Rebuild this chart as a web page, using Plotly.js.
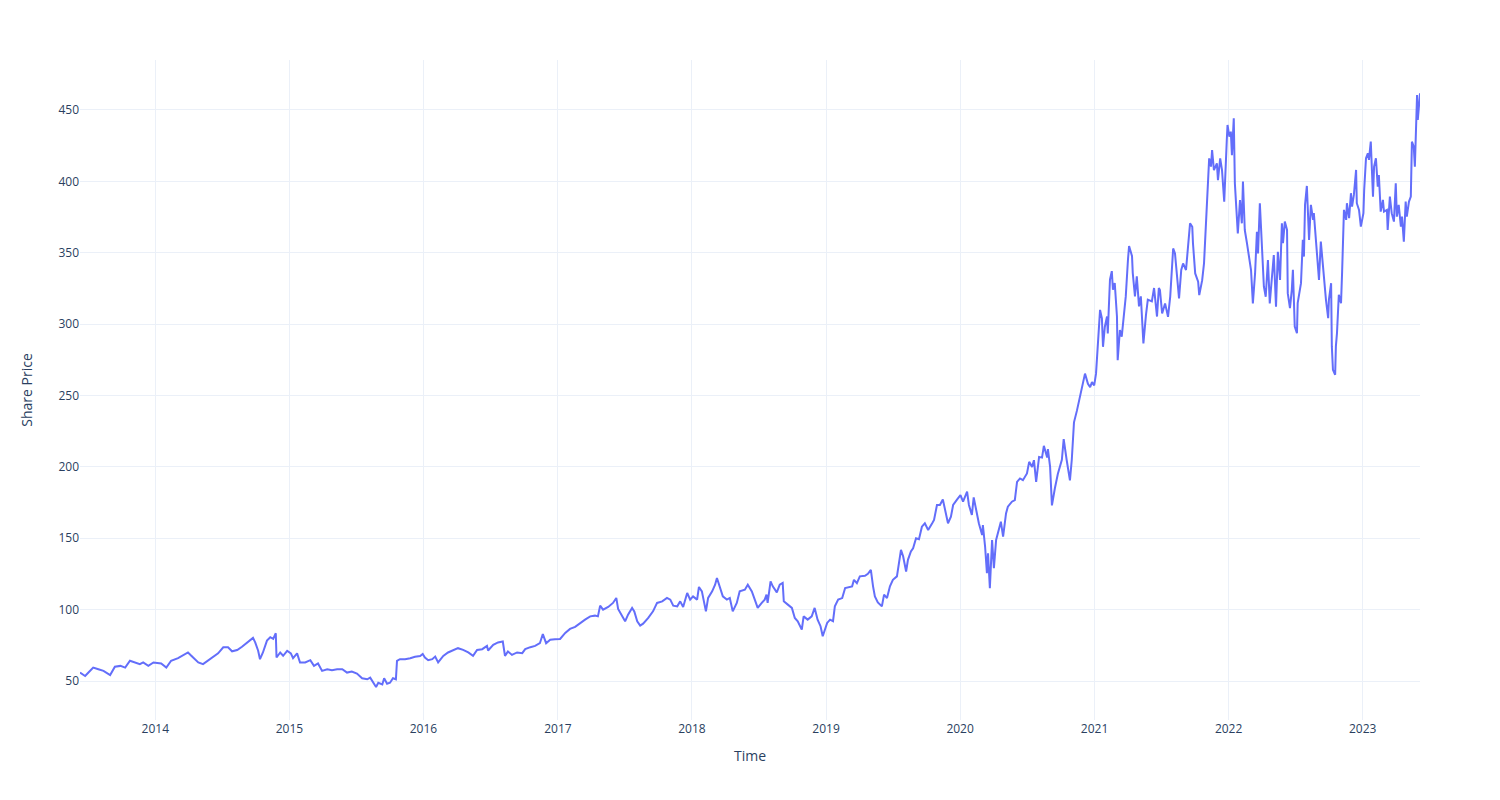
<!DOCTYPE html>
<html>
<head>
<meta charset="utf-8">
<script src="https://cdn.plot.ly/plotly-3.0.1.min.js"></script>
<style>html,body{margin:0;padding:0;background:#fff;}#chart{width:1500px;height:800px;}</style>
</head>
<body>
<div id="chart"></div>
<script>
var dates = [
"2013-06-10","2013-06-24","2013-07-03","2013-07-16","2013-07-30","2013-08-13","2013-08-31","2013-09-13","2013-09-28","2013-10-11","2013-10-24","2013-11-07","2013-11-20","2013-11-29","2013-12-13","2013-12-27",
"2014-01-17","2014-01-31","2014-02-13","2014-03-04","2014-03-22","2014-03-31","2014-04-09","2014-04-22","2014-04-28","2014-05-11","2014-05-25","2014-06-08","2014-06-21","2014-07-05","2014-07-18","2014-07-29","2014-08-12","2014-08-25","2014-09-08","2014-09-16","2014-09-24","2014-09-30","2014-10-08","2014-10-13","2014-10-21","2014-11-01","2014-11-10","2014-11-18","2014-11-25","2014-11-27","2014-12-07","2014-12-15","2014-12-26",
"2015-01-05","2015-01-11","2015-01-22","2015-01-30","2015-02-13","2015-02-27","2015-03-09","2015-03-20","2015-03-31","2015-04-14","2015-04-27","2015-05-11","2015-05-25","2015-06-07","2015-06-20","2015-07-04","2015-07-18","2015-08-01","2015-08-09","2015-08-17","2015-08-25","2015-08-31","2015-09-11","2015-09-16","2015-09-24","2015-10-02","2015-10-10","2015-10-18","2015-10-21","2015-10-29","2015-11-12","2015-11-26","2015-12-09","2015-12-23","2015-12-30",
"2016-01-05","2016-01-14","2016-01-25","2016-02-02","2016-02-10","2016-02-24","2016-03-08","2016-03-22","2016-04-04","2016-04-18","2016-05-02","2016-05-15","2016-05-26","2016-06-09","2016-06-22","2016-06-25","2016-07-09","2016-07-22","2016-08-04","2016-08-10","2016-08-18","2016-08-29","2016-09-12","2016-09-26","2016-10-04","2016-10-18","2016-10-31","2016-11-13","2016-11-21","2016-11-30","2016-12-11","2016-12-24",
"2017-01-07","2017-01-21","2017-02-03","2017-02-17","2017-03-03","2017-03-16","2017-03-30","2017-04-12","2017-04-20","2017-04-26","2017-05-04","2017-05-18","2017-05-31","2017-06-09","2017-06-14","2017-06-20","2017-06-28","2017-07-03","2017-07-11","2017-07-22","2017-07-28","2017-08-05","2017-08-13","2017-08-21","2017-09-04","2017-09-17","2017-09-28","2017-10-12","2017-10-25","2017-11-03","2017-11-11","2017-11-22","2017-11-30","2017-12-08","2017-12-19","2017-12-27",
"2018-01-04","2018-01-15","2018-01-20","2018-01-28","2018-02-08","2018-02-14","2018-02-25","2018-03-05","2018-03-10","2018-03-18","2018-03-26","2018-04-06","2018-04-14","2018-04-22","2018-05-03","2018-05-11","2018-05-25","2018-06-02","2018-06-13","2018-06-21","2018-06-29","2018-07-10","2018-07-18","2018-07-23","2018-07-26","2018-08-03","2018-08-09","2018-08-20","2018-08-28","2018-09-05","2018-09-08","2018-09-19","2018-09-30","2018-10-08","2018-10-16","2018-10-27","2018-11-01","2018-11-12","2018-11-23","2018-12-01","2018-12-09","2018-12-17","2018-12-23",
"2019-01-04","2019-01-12","2019-01-20","2019-01-25","2019-02-03","2019-02-14","2019-02-22","2019-03-02","2019-03-13","2019-03-18","2019-03-26","2019-04-03","2019-04-17","2019-04-25","2019-05-03","2019-05-09","2019-05-14","2019-05-22","2019-06-02","2019-06-08","2019-06-16","2019-06-24","2019-07-02","2019-07-13","2019-07-19","2019-07-24","2019-07-30","2019-08-07","2019-08-12","2019-08-20","2019-08-26","2019-09-03","2019-09-11","2019-09-19","2019-09-27","2019-10-06","2019-10-17","2019-10-22","2019-10-30","2019-11-07","2019-11-15","2019-11-24","2019-11-29","2019-12-07","2019-12-13","2019-12-24",
"2020-01-02","2020-01-09","2020-01-20","2020-01-25","2020-02-02","2020-02-07","2020-02-15","2020-02-21","2020-03-01","2020-03-03","2020-03-09","2020-03-14","2020-03-17","2020-03-22","2020-03-28","2020-04-02","2020-04-08","2020-04-13","2020-04-21","2020-04-27","2020-05-05","2020-05-10","2020-05-21","2020-05-29","2020-06-04","2020-06-12","2020-06-20","2020-07-01","2020-07-07","2020-07-15","2020-07-20","2020-07-26","2020-08-03","2020-08-11","2020-08-16","2020-08-25","2020-08-27","2020-09-02","2020-09-07","2020-09-15","2020-09-23","2020-10-04","2020-10-09","2020-10-17","2020-10-26","2020-10-31","2020-11-06","2020-11-14","2020-11-22","2020-11-30","2020-12-06","2020-12-14","2020-12-20","2020-12-25","2020-12-31",
"2021-01-05","2021-01-10","2021-01-16","2021-01-21","2021-01-24","2021-01-29","2021-02-04","2021-02-06","2021-02-12","2021-02-17","2021-02-20","2021-02-25","2021-03-03","2021-03-05","2021-03-11","2021-03-16","2021-03-22","2021-03-27","2021-04-02","2021-04-05","2021-04-13","2021-04-15","2021-04-21","2021-04-26","2021-05-02","2021-05-07","2021-05-10","2021-05-14","2021-05-21","2021-05-26","2021-06-06","2021-06-12","2021-06-20","2021-06-25","2021-06-28","2021-07-04","2021-07-12","2021-07-20","2021-07-26","2021-07-31","2021-08-03","2021-08-08","2021-08-14","2021-08-19","2021-08-25","2021-08-30","2021-09-07","2021-09-13","2021-09-18","2021-09-24","2021-09-26","2021-10-02","2021-10-10","2021-10-13","2021-10-21","2021-10-26","2021-11-01","2021-11-06","2021-11-09","2021-11-14","2021-11-17","2021-11-22","2021-11-30","2021-12-03","2021-12-09","2021-12-14","2021-12-17","2021-12-20","2021-12-27","2021-12-29",
"2022-01-03","2022-01-07","2022-01-10","2022-01-15","2022-01-18","2022-01-24","2022-01-26","2022-02-01","2022-02-06","2022-02-09","2022-02-14","2022-02-20","2022-02-25","2022-03-03","2022-03-08","2022-03-14","2022-03-19","2022-03-22","2022-03-27","2022-04-01","2022-04-07","2022-04-12","2022-04-18","2022-04-23","2022-04-29","2022-05-04","2022-05-10","2022-05-15","2022-05-21","2022-05-26","2022-05-29","2022-06-03","2022-06-09","2022-06-11","2022-06-17","2022-06-22","2022-06-25","2022-06-30","2022-07-06","2022-07-08","2022-07-17","2022-07-22","2022-07-25","2022-07-28","2022-08-02","2022-08-08","2022-08-13","2022-08-19","2022-08-21","2022-08-27","2022-09-01","2022-09-04","2022-09-09","2022-09-15","2022-09-18","2022-09-23","2022-09-29","2022-10-01","2022-10-07","2022-10-09","2022-10-12","2022-10-18","2022-10-20","2022-10-23","2022-10-28","2022-11-03","2022-11-06","2022-11-11","2022-11-17","2022-11-19","2022-11-25","2022-11-30","2022-12-03","2022-12-08","2022-12-14","2022-12-16","2022-12-22","2022-12-27",
"2023-01-03","2023-01-05","2023-01-10","2023-01-15","2023-01-18","2023-01-23","2023-01-29","2023-02-01","2023-02-06","2023-02-11","2023-02-14","2023-02-19","2023-02-25","2023-02-28","2023-03-08","2023-03-10","2023-03-16","2023-03-21","2023-03-27","2023-04-01","2023-04-04","2023-04-09","2023-04-15","2023-04-18","2023-04-23","2023-04-28","2023-05-01","2023-05-07","2023-05-12","2023-05-15","2023-05-20","2023-05-23","2023-05-29","2023-05-31","2023-06-06"
];
var prices = [
56.0,53.5,56.0,59.4,58.3,57.1,54.2,60.0,60.6,59.4,64.2,63.0,61.8,63.0,60.6,63.0,
62.3,59.4,64.2,66.0,68.9,70.0,67.7,64.2,63.0,61.8,64.2,67.0,69.4,73.6,73.6,70.8,71.7,74.0,77.1,78.8,80.2,77.1,71.2,65.3,70.0,78.3,80.7,79.5,83.5,66.5,70.0,67.7,71.2,
69.4,66.0,69.4,63.0,63.0,64.6,60.6,62.3,57.1,58.3,57.6,58.3,58.3,55.9,56.6,55.2,51.9,51.2,52.4,48.8,45.8,48.8,47.6,51.9,48.1,48.8,51.9,51.2,64.2,65.3,65.3,66.0,67.0,67.5,68.9,
66.5,64.6,65.3,67.1,63.0,67.6,70.0,71.8,73.0,71.8,70.0,67.6,71.8,72.3,74.6,71.4,75.3,77.0,77.7,67.6,70.7,68.3,70.0,69.5,72.3,73.7,74.6,76.5,82.9,76.5,78.9,79.3,
79.5,83.7,86.5,87.9,90.7,93.0,95.3,95.8,95.3,102.8,100.0,101.9,104.7,108.2,100.5,97.7,94.2,91.8,96.5,101.2,98.8,91.8,88.8,90.2,94.2,98.8,104.7,105.8,108.2,107.0,102.8,102.3,105.8,101.9,111.7,107.0,
109.3,107.0,115.9,112.8,98.8,108.2,112.8,117.5,122.2,116.3,109.3,107.0,108.2,98.8,104.7,112.8,114.0,117.5,112.8,107.0,101.2,104.7,107.0,110.5,104.7,119.8,116.3,112.1,117.5,118.7,105.8,103.5,101.2,94.2,91.8,86.0,95.3,93.0,95.3,101.2,93.0,88.4,81.4,
90.7,93.0,91.9,102.3,107.0,108.1,115.1,115.8,116.3,120.9,118.6,123.3,123.7,125.1,127.9,116.3,109.3,105.1,102.3,110.5,108.1,116.3,120.9,123.3,132.6,141.9,137.2,126.7,134.9,140.7,143.0,150.0,149.3,158.1,160.5,155.8,160.5,162.8,173.3,173.3,177.2,165.1,160.5,165.1,173.3,177.2,
180.2,175.6,182.6,173.3,166.3,178.6,168.6,160.5,152.3,159.3,144.2,125.6,139.5,115.1,148.8,129.1,148.8,153.5,161.6,151.2,167.4,172.1,175.6,176.7,189.5,191.9,190.7,195.4,203.5,200.0,204.7,189.5,207.0,206.5,214.7,206.5,212.4,200.0,173.0,185.0,195.0,205.0,219.4,205.0,190.5,205.0,231.2,239.4,248.8,257.1,265.3,258.2,255.9,259.4,257.1,
265.3,288.8,310.0,304.1,284.1,298.2,305.3,293.5,331.2,337.1,324.1,328.8,305.3,274.7,295.9,291.2,305.3,319.4,345.3,354.7,347.6,335.9,319.4,333.5,312.4,319.4,305.3,286.5,306.5,317.1,315.9,325.3,305.3,325.3,323.8,307.5,314.5,305.1,319.2,347.2,353.0,349.5,328.5,318.0,337.9,342.5,337.9,354.2,370.6,368.2,356.5,335.5,329.7,320.3,330.8,342.5,372.9,405.6,416.1,410.3,421.9,407.9,412.6,400.9,416.1,407.9,398.6,385.7,429.0,439.5,
431.3,434.8,418.4,444.1,398.6,374.1,363.5,386.9,370.6,399.8,365.9,356.5,347.2,337.9,314.5,335.5,364.7,349.5,384.6,358.9,326.2,319.2,344.9,314.5,333.2,348.4,312.2,350.7,331.0,370.7,356.7,371.8,366.0,321.7,311.2,324.0,338.0,298.3,293.7,314.7,328.7,359.0,347.3,383.5,396.8,359.0,383.5,373.0,377.7,359.0,340.3,331.0,357.8,338.0,333.3,317.0,304.2,317.0,328.7,284.4,268.0,264.5,284.4,293.7,320.5,314.7,336.8,380.0,373.0,384.7,374.2,391.7,382.3,390.5,408.0,384.7,380.0,368.3,
377.7,394.0,416.2,419.7,415.0,427.8,389.3,410.3,416.2,396.3,404.5,378.8,387.0,378.8,380.0,366.0,389.3,377.7,371.8,398.7,375.3,383.5,368.3,375.3,357.8,385.8,375.3,385.8,389.3,427.8,424.3,410.3,460.5,443.0,461.7
];
var xTitle = "Time";
var yTitle = "Share Price";

var trace = {
  x: dates,
  y: prices,
  type: "scatter",
  mode: "lines",
  line: {color: "#636efa", width: 2},
  showlegend: false
};
var grid = "#EBF0F8";
var layout = {
  width: 1500,
  height: 800,
  paper_bgcolor: "#ffffff",
  plot_bgcolor: "#ffffff",
  font: {color: "#2a3f5f", size: 12},
  margin: {l: 80, r: 80, t: 60, b: 80},
  xaxis: {
    title: {text: xTitle, font: {size: 14}, standoff: 15},
    type: "date",
    gridcolor: grid,
    zeroline: false,
    showline: false,
    ticks: "",
    dtick: "M12",
    tickformat: "%Y",
    range: [dates[0], dates[dates.length - 1]]
  },
  yaxis: {
    title: {text: yTitle, font: {size: 14}, standoff: 22},
    gridcolor: grid,
    zeroline: false,
    showline: false,
    ticks: "",
    dtick: 50,
    range: [22.7, 485]
  },
  hovermode: "x"
};
Plotly.newPlot("chart", [trace], layout, {displayModeBar: false});
</script>
</body>
</html>
